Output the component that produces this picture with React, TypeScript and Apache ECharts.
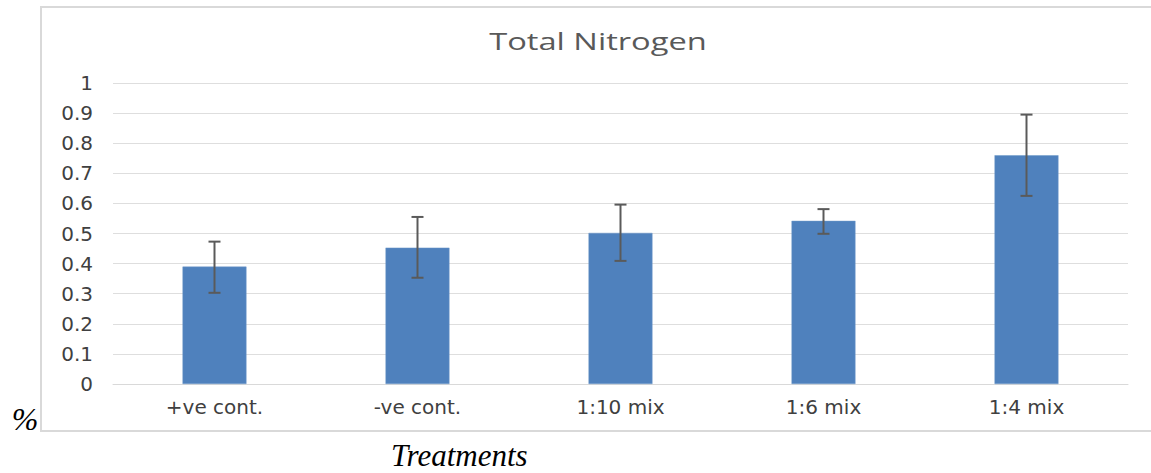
import React, { useEffect, useRef } from "react";
import * as echarts from "echarts";

const categories = ["+ve cont.", "-ve cont.", "1:10 mix", "1:6 mix", "1:4 mix"];
const values = [0.39, 0.453, 0.502, 0.542, 0.76];
const errLow = [0.303, 0.353, 0.409, 0.499, 0.625];
const errHigh = [0.473, 0.555, 0.596, 0.581, 0.895];
const titleText = "Total Nitrogen";
const yAxisName = "%";
const xAxisName = "Treatments";

export default function App() {
  const ref = useRef<HTMLDivElement>(null);

  useEffect(() => {
    if (!ref.current) return;
    const chart = echarts.init(ref.current, undefined, { renderer: "svg" });
    const errData = categories.map((_, i) => [i, errLow[i], errHigh[i]]);
    chart.setOption({
      animation: false,
      backgroundColor: "#ffffff",
      grid: { left: 113, right: 23, top: 83, bottom: 89, containLabel: false },
      xAxis: {
        type: "category",
        data: categories,
        axisLine: { show: true, lineStyle: { color: "#d9d9d9", width: 1 } },
        axisTick: { show: false },
        axisLabel: {
          margin: 13,
          fontFamily: "DejaVu Sans",
          fontSize: 20,
          color: "#404040",
        },
      },
      yAxis: {
        type: "value",
        min: 0,
        max: 1,
        interval: 0.1,
        axisLine: { show: false },
        axisTick: { show: false },
        splitLine: { lineStyle: { color: "#dedede", width: 1 } },
        axisLabel: {
          margin: 20,
          fontFamily: "DejaVu Sans",
          fontSize: 20,
          color: "#404040",
        },
      },
      series: [
        {
          type: "bar",
          data: values,
          barWidth: "31.5%",
          itemStyle: { color: "#4f81bd", borderColor: "#6f98c9", borderWidth: 0.5 },
        },
        {
          type: "custom",
          data: errData,
          encode: { x: 0, y: [1, 2] },
          z: 10,
          renderItem: (params: any, api: any) => {
            const lo = api.coord([api.value(0), api.value(1)]);
            const hi = api.coord([api.value(0), api.value(2)]);
            const half = 6;
            const style = { stroke: "#5a5a5a", lineWidth: 2 };
            return {
              type: "group",
              children: [
                { type: "line", shape: { x1: lo[0], y1: lo[1], x2: hi[0], y2: hi[1] }, style },
                { type: "line", shape: { x1: lo[0] - half, y1: lo[1], x2: lo[0] + half, y2: lo[1] }, style },
                { type: "line", shape: { x1: hi[0] - half, y1: hi[1], x2: hi[0] + half, y2: hi[1] }, style },
              ],
            };
          },
        },
      ],
      graphic: [
        {
          type: "rect",
          shape: { x: 41, y: 7, width: 1200, height: 424 },
          style: { fill: "none", stroke: "#d9d9d9", lineWidth: 2 },
          silent: true,
        },
        {
          type: "text",
          x: 598,
          y: 41,
          scaleX: 1.42,
          style: {
            text: titleText,
            font: "normal 23px 'Open Sans'",
            fill: "#595959",
            textAlign: "center",
            textVerticalAlign: "middle",
          },
        },
        {
          type: "text",
          x: 25,
          y: 419,
          style: {
            text: yAxisName,
            font: "italic 32px 'Liberation Serif'",
            fill: "#000000",
            textAlign: "center",
            textVerticalAlign: "middle",
          },
        },
        {
          type: "text",
          x: 391,
          y: 455,
          style: {
            text: xAxisName,
            font: "italic 31px 'Liberation Serif'",
            fill: "#000000",
            textAlign: "left",
            textVerticalAlign: "middle",
          },
        },
      ],
    });
    return () => chart.dispose();
  }, []);

  return (
    <div
      ref={ref}
      style={{ position: "absolute", left: 0, top: 0, width: 1151, height: 473, background: "#fff" }}
    />
  );
}
